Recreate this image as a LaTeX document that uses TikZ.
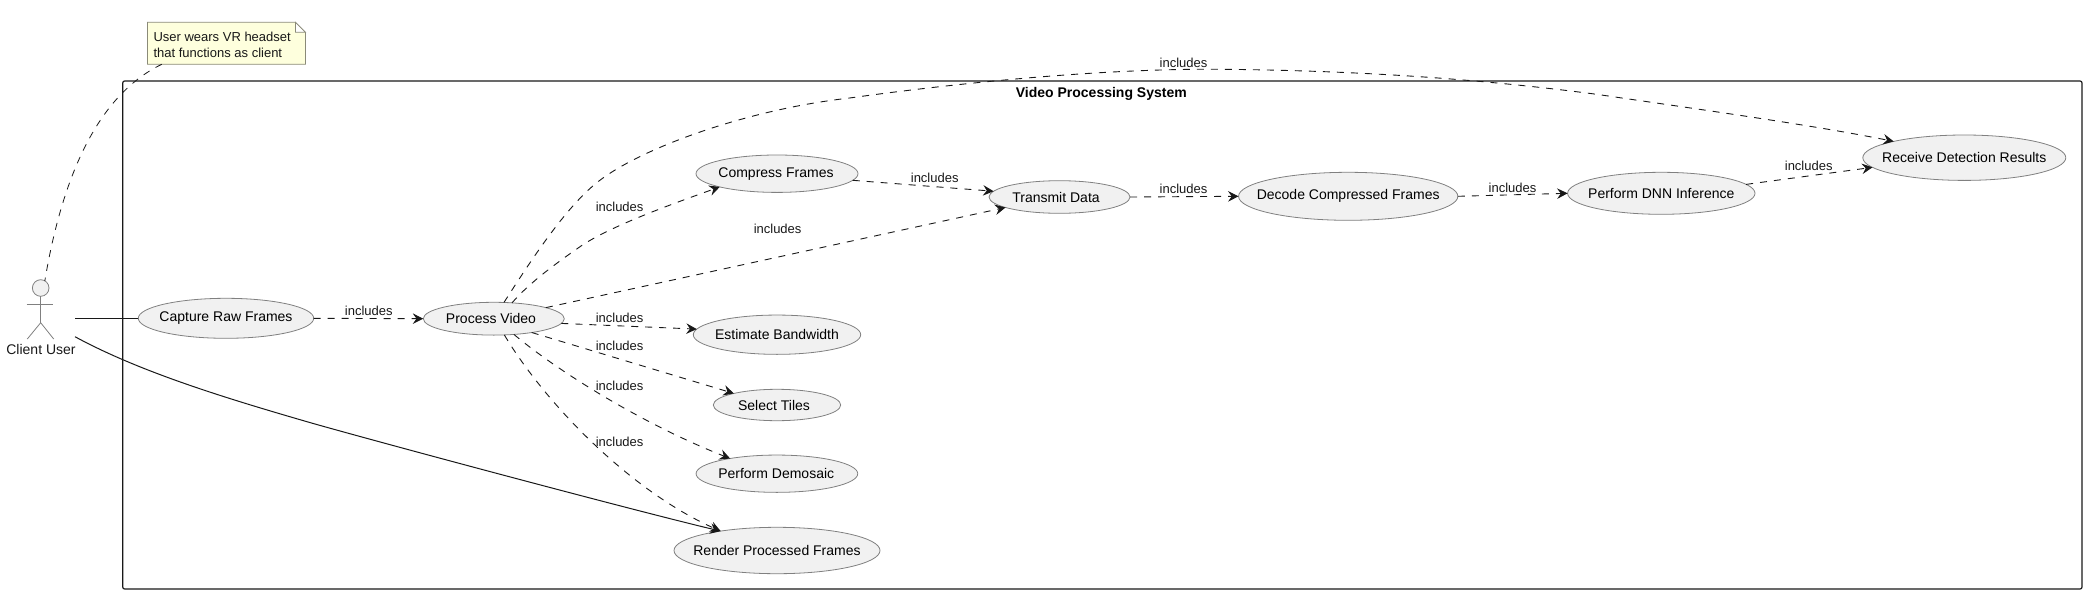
\documentclass[tikz,border=0pt]{standalone}
\usepackage{fontspec}
\setmainfont{Liberation Sans}
\usetikzlibrary{shapes.geometric,arrows.meta}
\definecolor{inkc}{HTML}{181818}
\definecolor{edgegray}{HTML}{808080}
\definecolor{ucfill}{HTML}{F1F1F1}
\definecolor{notefill}{HTML}{FEFFDD}
\definecolor{noteedge}{HTML}{8A8A78}
\tikzset{
  opentip/.style={-{Stealth[length=10.5pt,width=10.5pt,inset=3.7pt]}},
  ucase/.style={shape=ellipse,draw=edgegray,fill=ucfill,line width=0.8pt,inner sep=0pt,outer sep=0pt,font=\fontsize{14}{16}\selectfont},
  inc/.style={draw=inkc,fill=none,line width=0.9pt,dash pattern=on 7pt off 7pt,opentip},
  assoc/.style={draw=inkc,line width=1pt},
  lab/.style={font=\fontsize{13}{15}\selectfont,inner sep=0pt,text=inkc},
  stick/.style={draw=edgegray,line width=0.8pt},
  noteline/.style={draw=noteedge,line width=0.8pt},
}
\newcommand{\ucnode}[6]{\node[ucase,minimum width=#4pt,minimum height=#5pt] (#1) at (#2,#3) {\makebox[0pt]{#6}};}
\begin{document}
\begin{tikzpicture}[x=1pt,y=-1pt]
\useasboundingbox (0,0) rectangle (2087,594);
\draw[draw=inkc,line width=1.2pt,rounded corners=2pt] (122.7,81) rectangle (2082,589);
\node[font=\fontsize{14}{16}\selectfont\bfseries,inner sep=0pt] (title) at (1101.3,93.8) {Video Processing System};

% note
\node[minimum width=158pt,minimum height=42pt,inner sep=0pt,outer sep=0pt] (note) at (226.4,43.3) {};
\draw[noteline,fill=notefill]
  (note.north west) -- ([xshift=-10pt]note.north east) -- ([yshift=-10pt]note.north east)
  -- (note.south east) -- (note.south west) -- cycle;
\draw[noteline,fill=white]
  ([xshift=-10pt]note.north east) -- ([xshift=-10pt,yshift=-10pt]note.north east) -- ([yshift=-10pt]note.north east) -- cycle;
\node[lab,font=\fontsize{13}{16}\selectfont,anchor=west,align=left] (notetext) at (153.3,44.7) {User wears VR headset\\that functions as client};

% actor
\node[shape=ellipse,draw=edgegray,fill=ucfill,line width=0.8pt,minimum width=16.6pt,minimum height=16.6pt,inner sep=0pt,outer sep=0pt] (head) at (40.7,288) {};
\coordinate (hip) at (40.7,322.7);
\coordinate (armL) at (26.7,304.3);
\coordinate (armR) at (53.3,304.3);
\coordinate (legL) at (27.3,339);
\coordinate (legR) at (53.7,339);
\coordinate (actA) at (75,318.3);
\coordinate (actB) at (75,336.7);
\draw[stick] (head.south) -- (hip);
\draw[stick] (armL) -- (armR);
\draw[stick] (legL) -- (hip) -- (legR);
\node[font=\fontsize{14}{16}\selectfont,inner sep=0pt,text=inkc] (actorname) at (41,349.3) {Client User};

% use cases
\ucnode{capture}{226}{318.3}{175.4}{40}{Capture Raw Frames}
\ucnode{proc}{493.8}{318.7}{141}{32.8}{\hspace*{-5.6pt}Process Video}
\ucnode{compress}{777}{173.7}{162}{37.4}{\hspace*{-2pt}Compress Frames}
\ucnode{trans}{1059.5}{197}{141}{32.6}{\hspace*{-7pt}Transmit Data}
\ucnode{decode}{1348.2}{196.3}{219.3}{48}{Decode Compressed Frames}
\ucnode{dnn}{1661.3}{193.3}{187.4}{42}{Perform DNN Inference}
\ucnode{recv}{1964.3}{157.7}{203}{45.4}{Receive Detection Results}
\ucnode{bw}{777}{334.7}{167.4}{39.3}{Estimate Bandwidth}
\ucnode{tiles}{777}{405}{127.4}{31.4}{\hspace*{-6pt}Select Tiles}
\ucnode{demo}{776.9}{473.7}{161.7}{37.3}{\hspace*{-1.4pt}Perform Demosaic}
\ucnode{render}{777}{550.5}{206}{46.4}{Render Processed Frames}

% note link
\draw[draw=inkc,line width=0.8pt,dash pattern=on 7pt off 7pt] (note.198.3) .. controls (92,98) and (60,190) .. (head.60);

% actor links
\draw[assoc] (actA) -- (capture.west);
\draw[assoc,opentip] (actB) .. controls (140,372) and (225,398) .. (312.5,423.3) .. controls (400,448) and (640,512) .. (render.161.4);

% includes
\draw[inc] (capture.east) -- (proc.west);
\draw[inc] (proc.58) .. controls (530,262) and (565,207.6) .. (598,181.7) .. controls (640,148.7) and (745,110) .. (847.4,98.3) .. controls (950,84) and (1100,68) .. (1224,69.3) .. controls (1350,70.6) and (1471.6,77.8) .. (1596.6,94.3) .. controls (1696.6,109) and (1812,125) .. (recv.167.2);
\draw[inc] (proc.41) .. controls (530,282) and (558,262) .. (580,246.7) .. controls (610,226) and (675,203) .. (compress.193.9);
\draw[inc] (proc.12) -- (trans.191.5);
\draw[inc] (proc.356.8) -- (bw.176.6);
\draw[inc] (proc.340) -- (tiles.165.4);
\draw[inc] (proc.322) .. controls (560,373) and (645,425) .. (demo.162.8);
\draw[inc] (proc.303) .. controls (545,403) and (630,491) .. (render.161.4);
\draw[inc] (compress.355.9) -- (trans.175.3);
\draw[inc] (trans.east) -- (decode.west);
\draw[inc] (decode.east) -- (dnn.west);
\draw[inc] (dnn.6.9) -- (recv.186.8);

% labels
\node[lab] (l1) at (368.8,310.7) {includes};
\node[lab] (l2) at (619.6,206.7) {includes};
\node[lab] (l3) at (619.6,317.7) {includes};
\node[lab] (l4) at (619.6,345.7) {includes};
\node[lab] (l5) at (619.6,385.7) {includes};
\node[lab] (l6) at (619.6,441.7) {includes};
\node[lab] (l7) at (777.6,228.7) {includes};
\node[lab] (l8) at (934.7,177.7) {includes};
\node[lab] (l9) at (1183.5,188.7) {includes};
\node[lab] (l10) at (1183.5,62.7) {includes};
\node[lab] (l11) at (1512.5,187.7) {includes};
\node[lab] (l12) at (1808.7,165.7) {includes};
\end{tikzpicture}
\end{document}
